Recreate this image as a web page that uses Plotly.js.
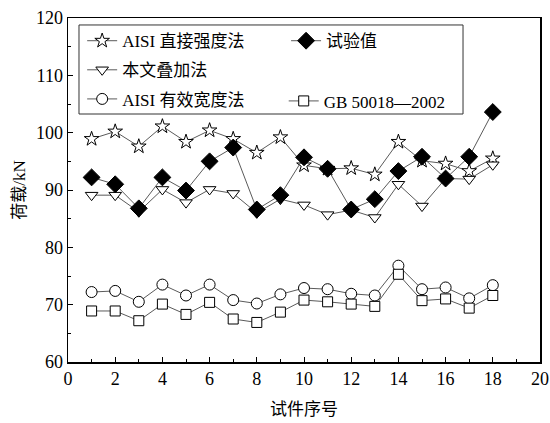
<!DOCTYPE html>
<html><head><meta charset="utf-8">
<script src="https://cdn.plot.ly/plotly-3.0.1.min.js"></script>
<style>html,body{margin:0;padding:0;background:#fff}</style>
</head><body>
<div id="chart" style="width:550px;height:423px"></div>
<script>
const specimen = [1,2,3,4,5,6,7,8,9,10,11,12,13,14,15,16,17,18];
const aisiDirect = [98.9,100.2,97.6,101.1,98.4,100.4,98.9,96.5,99.2,94.3,93.7,93.8,92.7,98.4,95.1,94.6,93.3,95.5];
const testValue = [92.2,91.0,86.8,92.2,89.9,95.0,97.4,86.6,89.1,95.7,93.7,86.6,88.4,93.3,95.8,92.0,95.8,103.6];
const superposition = [89.1,89.1,86.2,90.1,87.8,90.1,89.4,86.0,88.4,87.4,85.7,86.5,85.2,91.0,87.2,92.0,91.9,94.4];
const aisiEffective = [72.2,72.4,70.5,73.5,71.6,73.5,70.8,70.2,71.8,72.9,72.7,71.9,71.6,76.8,72.7,73.0,71.1,73.4];
const gb50018 = [68.9,68.9,67.2,70.1,68.3,70.4,67.5,66.9,68.7,70.8,70.5,70.1,69.7,75.3,70.7,71.0,69.4,71.6];

const lineColor = '#5a5a5a';
function tr(name, y, symbol, fill, size, legend, rank, grp) {
  return {
    x: specimen, y: y, name: name, type: 'scatter', mode: 'lines+markers',
    line: {color: lineColor, width: 1},
    marker: {symbol: symbol, size: size, color: fill, line: {color: '#000', width: 1}},
    legend: legend, legendrank: rank, legendgroup: grp, cliponaxis: false
  };
}
const data = [
  tr('AISI 直接强度法', aisiDirect, 'star', '#fff', 11, 'legend', 1, 'g1'),
  tr('本文叠加法', superposition, 'triangle-down', '#fff', 11, 'legend', 2, 'g2'),
  tr('AISI 有效宽度法', aisiEffective, 'circle', '#fff', 11, 'legend', 3, 'g3'),
  tr('GB 50018—2002', gb50018, 'square', '#fff', 10, 'legend3', 1, 'g4'),
  tr('试验值', testValue, 'diamond', '#000', 13, 'legend2', 1, 'g5')
];
const fontFam = '"Liberation Serif", "Times New Roman", "Noto Sans CJK SC", serif';
const legBase = {bgcolor: 'rgba(0,0,0,0)', borderwidth: 0, font: {family: fontFam, size: 17, color: '#000'},
  xanchor: 'left', yanchor: 'top', orientation: 'v', tracegroupgap: 4, itemwidth: 30};
const layout = {
  width: 550, height: 423,
  margin: {l: 68, r: 10, t: 18, b: 61},
  paper_bgcolor: '#fff', plot_bgcolor: '#fff',
  font: {family: fontFam, size: 17, color: '#000'},
  showlegend: true,
  xaxis: {
    range: [0, 20], dtick: 2, tick0: 0, ticks: 'inside', ticklen: 5, tickwidth: 1, tickcolor: '#000',
    showline: true, linecolor: '#000', linewidth: 1.5, mirror: true, showgrid: false, zeroline: false,
    minor: {dtick: 1, ticks: 'inside', ticklen: 3, tickcolor: '#000'},
    tickfont: {family: fontFam, size: 18},
    title: {text: '试件序号', font: {family: fontFam, size: 17}, standoff: 15}
  },
  yaxis: {
    range: [60, 120], dtick: 10, tick0: 60, ticks: 'inside', ticklen: 5, tickwidth: 1, tickcolor: '#000',
    showline: true, linecolor: '#000', linewidth: 1.5, mirror: true, showgrid: false, zeroline: false,
    minor: {dtick: 5, ticks: 'inside', ticklen: 3, tickcolor: '#000'},
    tickfont: {family: fontFam, size: 18},
    title: {text: '荷载/kN', font: {family: fontFam, size: 17}, standoff: 6}
  },
  legend: Object.assign({}, legBase, {x: 0.03, y: 0.985}),
  legend2: Object.assign({}, legBase, {x: 0.462, y: 0.985}),
  legend3: Object.assign({}, legBase, {x: 0.457, y: 0.81}),
  shapes: [{type: 'rect', xref: 'paper', yref: 'paper', x0: 0.0233, x1: 0.8369, y0: 0.7209, y1: 0.9797,
    line: {color: '#333', width: 1}, fillcolor: 'rgba(0,0,0,0)'}]
};
Plotly.newPlot('chart', data, layout, {staticPlot: true, displayModeBar: false});
</script>
</body></html>
